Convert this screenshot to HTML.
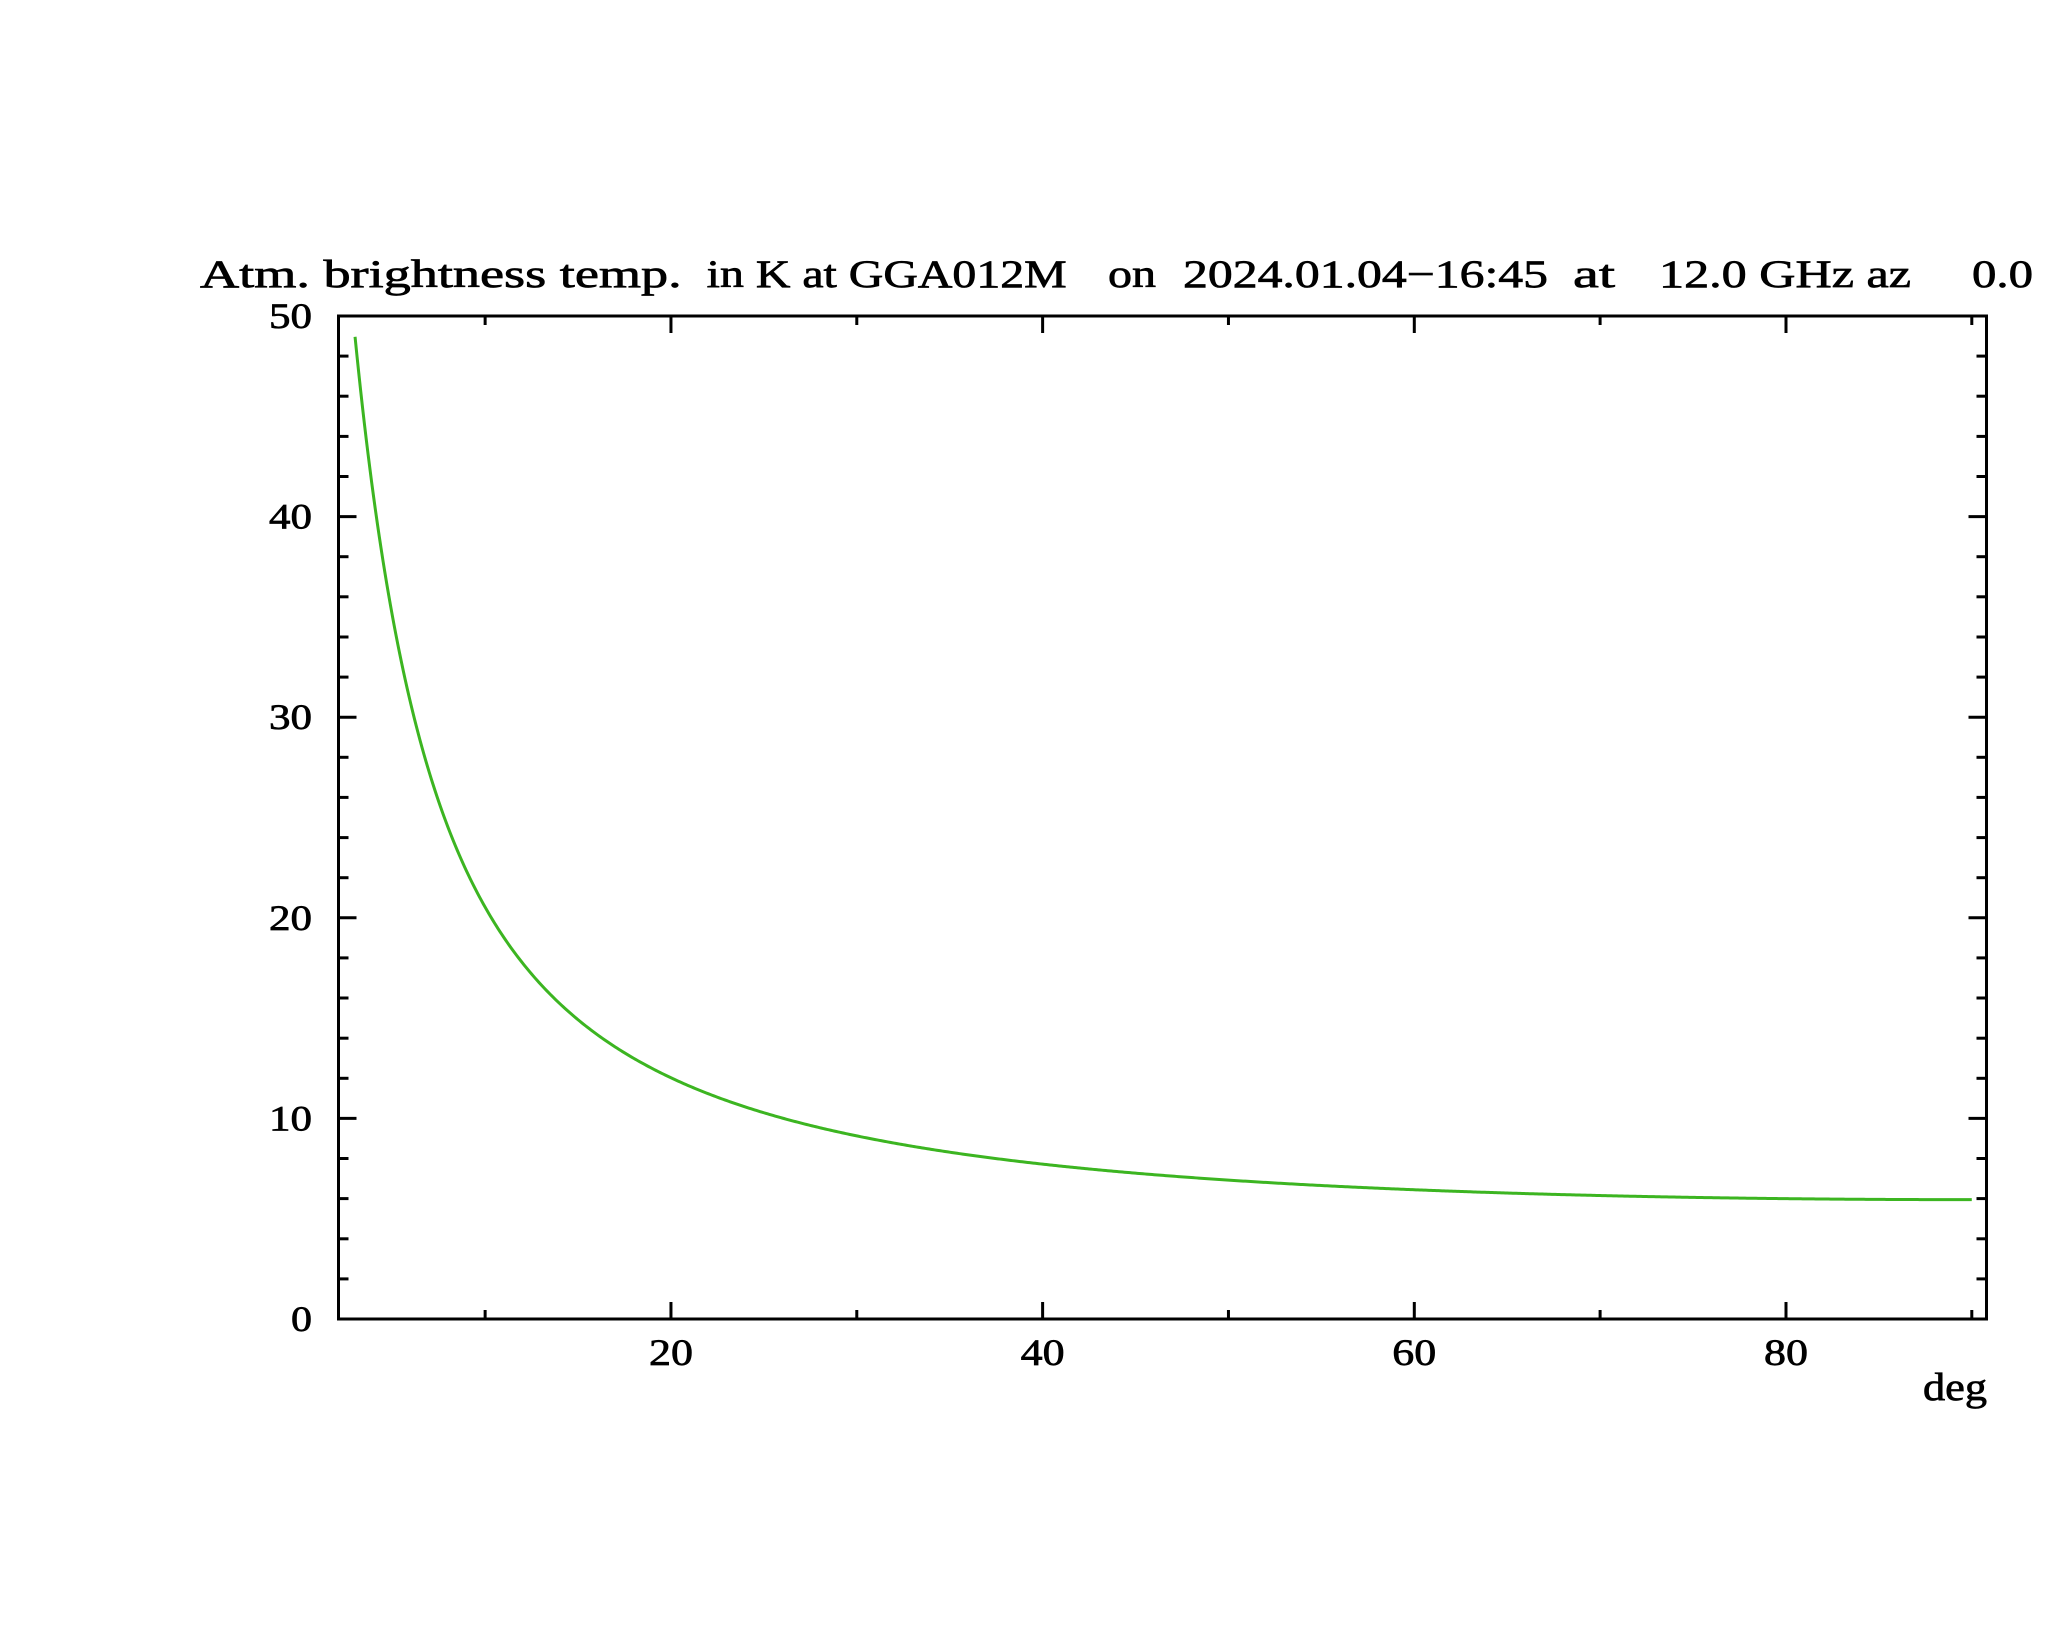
<!DOCTYPE html>
<html>
<head>
<meta charset="utf-8">
<style>
  html, body { margin: 0; padding: 0; background: #ffffff; }
  svg { display: block; }
  text { font-family: "Liberation Serif", "DejaVu Serif", serif; fill: #000; stroke: #000; stroke-width: 0.7; }
</style>
</head>
<body>
<svg width="2048" height="1635" viewBox="0 0 2048 1635" xmlns="http://www.w3.org/2000/svg">
  <rect x="0" y="0" width="2048" height="1635" fill="#ffffff"/>

  <g font-size="39">
    <text x="200" y="287" textLength="481.7" lengthAdjust="spacingAndGlyphs">Atm. brightness temp.</text>
    <text x="706.7" y="287" textLength="360" lengthAdjust="spacingAndGlyphs">in K at GGA012M</text>
    <text x="1108" y="287" textLength="48" lengthAdjust="spacingAndGlyphs">on</text>
    <text x="1183" y="287" textLength="365" lengthAdjust="spacingAndGlyphs">2024.01.04−16:45</text>
    <text x="1573" y="287" textLength="42" lengthAdjust="spacingAndGlyphs">at</text>
    <text x="1659" y="287" textLength="252" lengthAdjust="spacingAndGlyphs">12.0 GHz az</text>
    <text x="1972" y="287" textLength="61" lengthAdjust="spacingAndGlyphs">0.0</text>
  </g>

  <polyline id="curve" fill="none" stroke="#3cb521" stroke-width="3" stroke-linejoin="round"
    points="355.05,336.8 364.34,423.3 373.63,497.0 382.92,560.4 392.22,615.0 401.51,662.5 410.80,704.0 429.38,772.8 447.96,827.1 466.55,871.1 485.13,907.2 503.71,937.3 522.30,962.7 540.88,984.5 559.46,1003.3 578.05,1019.8 596.63,1034.2 633.79,1058.4 670.96,1077.8 708.13,1093.7 745.29,1106.9 801.04,1123.1 856.79,1135.9 949.7,1152.2 1042.62,1164.1 1135.5,1173.2 1228.45,1180.1 1321.4,1185.5 1414.3,1189.7 1507.2,1193.0 1600.1,1195.5 1693.0,1197.4 1786.0,1198.6 1878.9,1199.4 1971.8,1199.6"/>

  <rect x="338.5" y="316" width="1648" height="1003" fill="none" stroke="#000" stroke-width="3"/>

  <g stroke="#000" stroke-width="3">
    <line x1="338.5" y1="1319" x2="356.5" y2="1319"/>
    <line x1="338.5" y1="1118.4" x2="356.5" y2="1118.4"/>
    <line x1="338.5" y1="917.8" x2="356.5" y2="917.8"/>
    <line x1="338.5" y1="717.2" x2="356.5" y2="717.2"/>
    <line x1="338.5" y1="516.6" x2="356.5" y2="516.6"/>
    <line x1="338.5" y1="316" x2="356.5" y2="316"/>
    <line x1="1986.5" y1="1319" x2="1968.5" y2="1319"/>
    <line x1="1986.5" y1="1118.4" x2="1968.5" y2="1118.4"/>
    <line x1="1986.5" y1="917.8" x2="1968.5" y2="917.8"/>
    <line x1="1986.5" y1="717.2" x2="1968.5" y2="717.2"/>
    <line x1="1986.5" y1="516.6" x2="1968.5" y2="516.6"/>
    <line x1="1986.5" y1="316" x2="1968.5" y2="316"/>

    <line x1="338.5" y1="1278.9" x2="348.5" y2="1278.9"/>
    <line x1="338.5" y1="1238.8" x2="348.5" y2="1238.8"/>
    <line x1="338.5" y1="1198.6" x2="348.5" y2="1198.6"/>
    <line x1="338.5" y1="1158.5" x2="348.5" y2="1158.5"/>
    <line x1="338.5" y1="1078.3" x2="348.5" y2="1078.3"/>
    <line x1="338.5" y1="1038.2" x2="348.5" y2="1038.2"/>
    <line x1="338.5" y1="998.0" x2="348.5" y2="998.0"/>
    <line x1="338.5" y1="957.9" x2="348.5" y2="957.9"/>
    <line x1="338.5" y1="877.7" x2="348.5" y2="877.7"/>
    <line x1="338.5" y1="837.6" x2="348.5" y2="837.6"/>
    <line x1="338.5" y1="797.4" x2="348.5" y2="797.4"/>
    <line x1="338.5" y1="757.3" x2="348.5" y2="757.3"/>
    <line x1="338.5" y1="677.1" x2="348.5" y2="677.1"/>
    <line x1="338.5" y1="637.0" x2="348.5" y2="637.0"/>
    <line x1="338.5" y1="596.8" x2="348.5" y2="596.8"/>
    <line x1="338.5" y1="556.7" x2="348.5" y2="556.7"/>
    <line x1="338.5" y1="476.5" x2="348.5" y2="476.5"/>
    <line x1="338.5" y1="436.4" x2="348.5" y2="436.4"/>
    <line x1="338.5" y1="396.2" x2="348.5" y2="396.2"/>
    <line x1="338.5" y1="356.1" x2="348.5" y2="356.1"/>

    <line x1="1986.5" y1="1278.9" x2="1976.5" y2="1278.9"/>
    <line x1="1986.5" y1="1238.8" x2="1976.5" y2="1238.8"/>
    <line x1="1986.5" y1="1198.6" x2="1976.5" y2="1198.6"/>
    <line x1="1986.5" y1="1158.5" x2="1976.5" y2="1158.5"/>
    <line x1="1986.5" y1="1078.3" x2="1976.5" y2="1078.3"/>
    <line x1="1986.5" y1="1038.2" x2="1976.5" y2="1038.2"/>
    <line x1="1986.5" y1="998.0" x2="1976.5" y2="998.0"/>
    <line x1="1986.5" y1="957.9" x2="1976.5" y2="957.9"/>
    <line x1="1986.5" y1="877.7" x2="1976.5" y2="877.7"/>
    <line x1="1986.5" y1="837.6" x2="1976.5" y2="837.6"/>
    <line x1="1986.5" y1="797.4" x2="1976.5" y2="797.4"/>
    <line x1="1986.5" y1="757.3" x2="1976.5" y2="757.3"/>
    <line x1="1986.5" y1="677.1" x2="1976.5" y2="677.1"/>
    <line x1="1986.5" y1="637.0" x2="1976.5" y2="637.0"/>
    <line x1="1986.5" y1="596.8" x2="1976.5" y2="596.8"/>
    <line x1="1986.5" y1="556.7" x2="1976.5" y2="556.7"/>
    <line x1="1986.5" y1="476.5" x2="1976.5" y2="476.5"/>
    <line x1="1986.5" y1="436.4" x2="1976.5" y2="436.4"/>
    <line x1="1986.5" y1="396.2" x2="1976.5" y2="396.2"/>
    <line x1="1986.5" y1="356.1" x2="1976.5" y2="356.1"/>

    <line x1="670.96" y1="1319" x2="670.96" y2="1302"/>
    <line x1="1042.62" y1="1319" x2="1042.62" y2="1302"/>
    <line x1="1414.3" y1="1319" x2="1414.3" y2="1302"/>
    <line x1="1786.0" y1="1319" x2="1786.0" y2="1302"/>
    <line x1="670.96" y1="316" x2="670.96" y2="333"/>
    <line x1="1042.62" y1="316" x2="1042.62" y2="333"/>
    <line x1="1414.3" y1="316" x2="1414.3" y2="333"/>
    <line x1="1786.0" y1="316" x2="1786.0" y2="333"/>
    <line x1="485.13" y1="1319" x2="485.13" y2="1310"/>
    <line x1="856.79" y1="1319" x2="856.79" y2="1310"/>
    <line x1="1228.45" y1="1319" x2="1228.45" y2="1310"/>
    <line x1="1600.1" y1="1319" x2="1600.1" y2="1310"/>
    <line x1="1971.8" y1="1319" x2="1971.8" y2="1310"/>
    <line x1="485.13" y1="316" x2="485.13" y2="325"/>
    <line x1="856.79" y1="316" x2="856.79" y2="325"/>
    <line x1="1228.45" y1="316" x2="1228.45" y2="325"/>
    <line x1="1600.1" y1="316" x2="1600.1" y2="325"/>
    <line x1="1971.8" y1="316" x2="1971.8" y2="325"/>
  </g>

  <g font-size="36" text-anchor="end">
    <text x="312" y="1331" textLength="21" lengthAdjust="spacingAndGlyphs">0</text>
    <text x="312" y="1130.4" textLength="43" lengthAdjust="spacingAndGlyphs">10</text>
    <text x="312" y="929.8" textLength="43" lengthAdjust="spacingAndGlyphs">20</text>
    <text x="312" y="729.2" textLength="43" lengthAdjust="spacingAndGlyphs">30</text>
    <text x="312" y="528.6" textLength="43" lengthAdjust="spacingAndGlyphs">40</text>
    <text x="312" y="328" textLength="43" lengthAdjust="spacingAndGlyphs">50</text>
  </g>

  <g font-size="37">
    <text x="649" y="1365" textLength="44" lengthAdjust="spacingAndGlyphs">20</text>
    <text x="1020.6" y="1365" textLength="44" lengthAdjust="spacingAndGlyphs">40</text>
    <text x="1392.3" y="1365" textLength="44" lengthAdjust="spacingAndGlyphs">60</text>
    <text x="1764" y="1365" textLength="44" lengthAdjust="spacingAndGlyphs">80</text>
  </g>

  <text x="1923" y="1400" font-size="39" textLength="64" lengthAdjust="spacingAndGlyphs">deg</text>
</svg>
<script>
(function(){
  var pts = [];
  for (var i = 0; i <= 870; i++) {
    var d = 3 + i * 0.1;
    var s = Math.sin(d * Math.PI / 180);
    var R = 425 * s;
    var A = 851 / (Math.sqrt(R * R + 851) + R);
    var T = 2.75 + 3.2 * A;
    var x = 299.3 + 18.583 * d;
    var y = 1319 - 20.06 * T;
    pts.push(x.toFixed(2) + "," + y.toFixed(2));
  }
  var c = document.getElementById("curve");
  if (c) c.setAttribute("points", pts.join(" "));
})();
</script>
</body>
</html>
